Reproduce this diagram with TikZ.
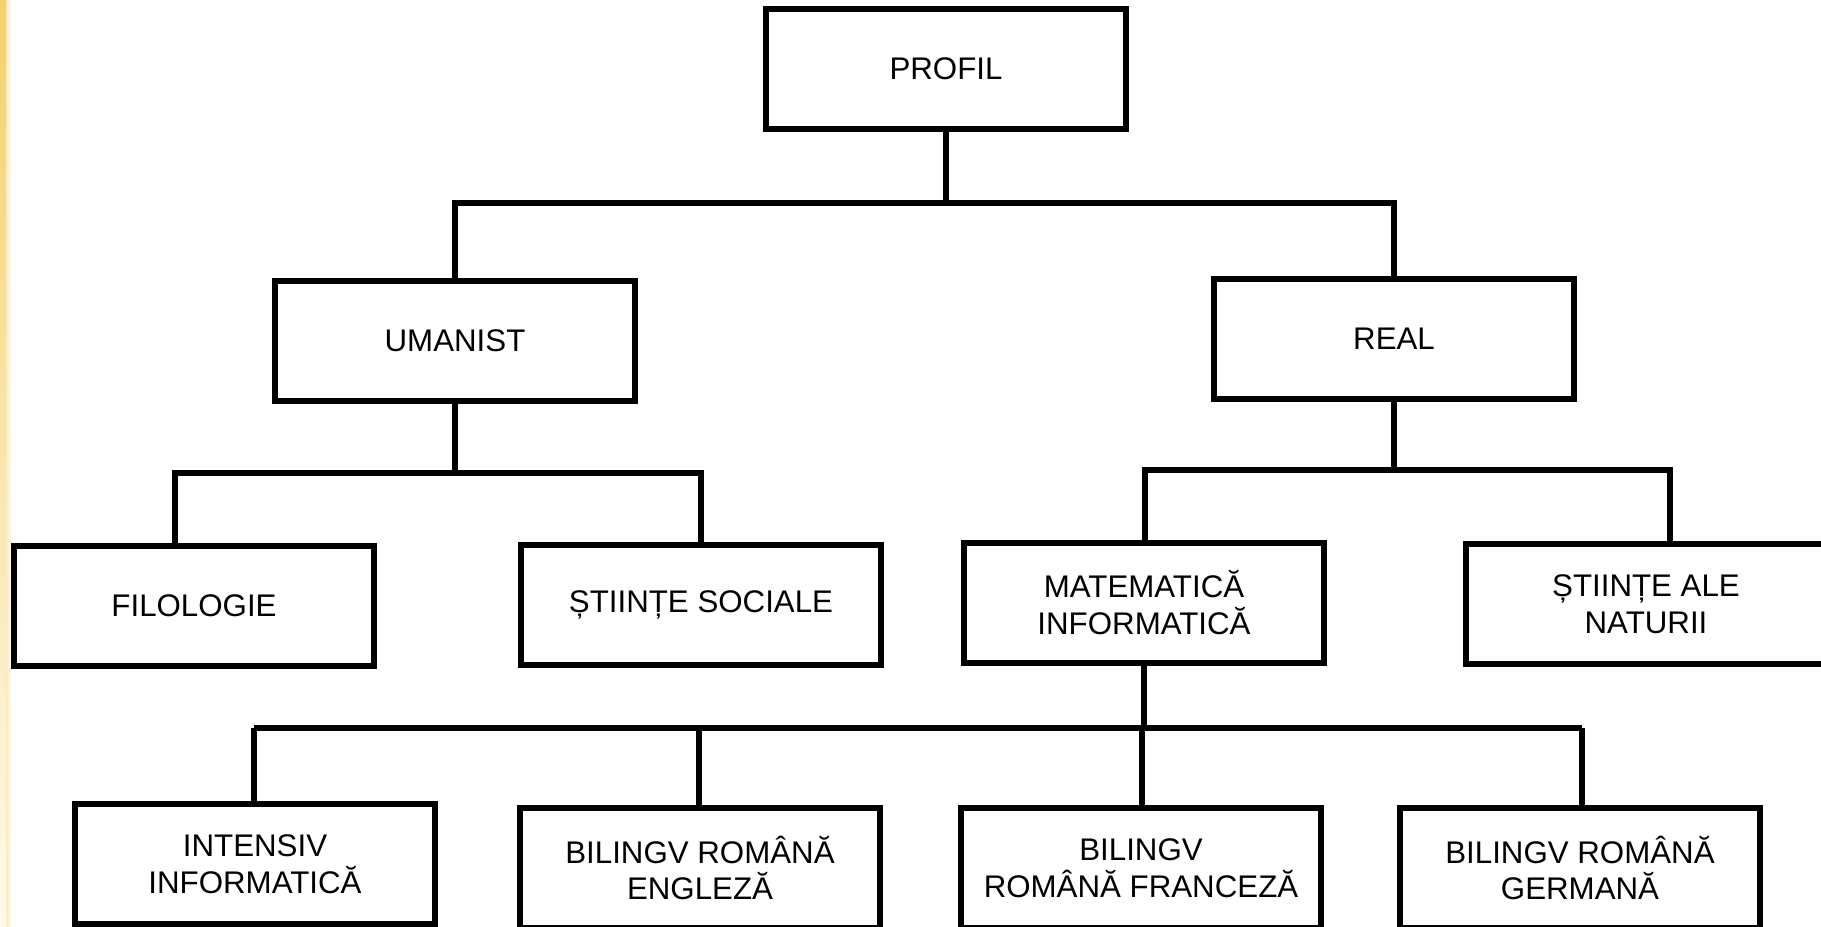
\documentclass[tikz,border=0pt]{standalone}
\usepackage{fontspec}
\setmainfont{Liberation Sans}
\definecolor{goldBord}{RGB}{244,210,104}

\begin{document}
\begin{tikzpicture}[x=0.02cm,y=-0.02cm,
      boite/.style={draw=black,line width=3pt,minimum width=7.2cm,minimum height=2.4cm,
        align=center,inner sep=0.1cm,font=\fontsize{17.8}{21}\selectfont,text=black},
      lien/.style={black,line width=3pt}
    ]
    \useasboundingbox (0,0) rectangle (1821,926);
    % bande dorée sur le bord gauche
    \shade[top color=goldBord,bottom color=goldBord!12!white] (0,0) rectangle (6,926);
    \shade[left color=goldBord!45!white,right color=white] (6,0) rectangle (12,926);

    \node[boite] (profil) at (946,69) {PROFIL};
    \node[boite] (umanist) at (455,341) {UMANIST};
    \node[boite] (real) at (1394,339) {REAL};

    \node[boite] (filologie) at (194,606) {FILOLOGIE};
    \node[boite] (sociale) at (701,605) {ȘTIINȚE SOCIALE};
    \node[boite] (matematica) at (1144,603) {MATEMATICĂ\\INFORMATICĂ};
    \node[boite] (naturii) at (1646,604) {ȘTIINȚE ALE\\NATURII};

    \node[boite] (intensiv) at (255,864) {INTENSIV\\INFORMATICĂ};
    \node[boite] (engleza) at (700,868) {BILINGV ROMÂNĂ\\ENGLEZĂ};
    \node[boite] (franceza) at (1141,868) {BILINGV\\ROMÂNĂ FRANCEZĂ};
    \node[boite] (germana) at (1580,868) {BILINGV ROMÂNĂ\\GERMANĂ};

    % les barres de liaison
    \coordinate (jProfil) at (946,203);
    \draw[lien] (profil.south) -- (jProfil);
    \draw[lien] (umanist.north) -- (umanist.north |- jProfil)
      -- (real.north |- jProfil) -- (real.north);

    \coordinate (jFil) at (175,473);
    \coordinate (jSoc) at (701,473);
    \draw[lien] (umanist.south) -- (umanist.south |- jFil);
    \draw[lien] (jFil |- filologie.north) -- (jFil) -- (jSoc) -- (jSoc |- sociale.north);

    \coordinate (jMat) at (1145,470);
    \coordinate (jNat) at (1670,470);
    \draw[lien] (real.south) -- (real.south |- jMat);
    \draw[lien] (jMat |- matematica.north) -- (jMat) -- (jNat) -- (jNat |- naturii.north);

    \coordinate (busG) at (254,728);
    \coordinate (busD) at (1582,728);
    \draw[lien] (matematica.south) -- (matematica.south |- busG);
    \draw[lien] (busG) -- (busD);
    \foreach \n/\x in {intensiv/254,engleza/699,franceza/1142,germana/1582}{
      \draw[lien] (\x,728) -- (\n.north -| \x,728);
    }
  \end{tikzpicture}
\end{document}
